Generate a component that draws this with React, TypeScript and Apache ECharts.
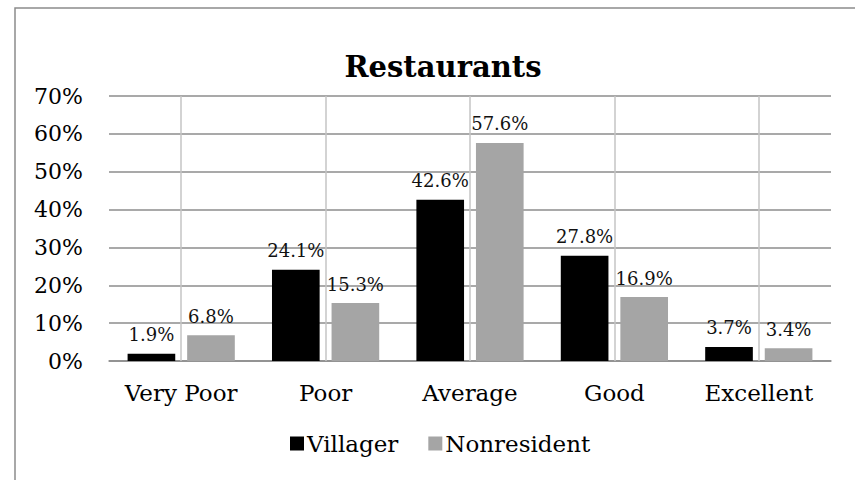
import React, { useEffect, useRef } from "react";
import * as echarts from "echarts";

const categories = ["Very Poor", "Poor", "Average", "Good", "Excellent"];
const villager = [1.9, 24.1, 42.6, 27.8, 3.7];
const nonresident = [6.8, 15.3, 57.6, 16.9, 3.4];
const seriesNames = ["Villager", "Nonresident"];
const yTicks = { min: 0, max: 70, interval: 10 };

const FONT = "'DejaVu Serif', Georgia, serif";

export default function App() {
  const ref = useRef<HTMLDivElement>(null);
  useEffect(() => {
    if (!ref.current) return;
    const chart = echarts.init(ref.current, null, { renderer: "svg" });
    const labelCfg = {
      show: true,
      position: "top" as const,
      distance: 10,
      fontFamily: FONT,
      fontSize: 18,
      color: "#111",
      formatter: (p: any) => `${Number(p.value).toFixed(1)}%`,
    };
    chart.setOption({
      animation: false,
      backgroundColor: "#ffffff",
      textStyle: { fontFamily: FONT },
      graphic: [
        {
          type: "rect",
          shape: { x: 15, y: 8, width: 900, height: 600 },
          style: { fill: "none", stroke: "#8c8c8c", lineWidth: 1.5 },
          silent: true,
          z: 100,
        },
      ],
      title: {
        text: "Restaurants",
        left: 438,
        textAlign: "center",
        top: 47,
        textStyle: {
          fontFamily: FONT,
          fontWeight: "bold",
          fontSize: 29,
          color: "#000",
        },
      },
      legend: {
        data: seriesNames,
        left: 290,
        top: 432,
        padding: 0,
        itemWidth: 14,
        itemHeight: 14,
        itemGap: 30,
        icon: "rect",
        textStyle: { fontFamily: FONT, fontSize: 23, color: "#000", padding: [0, 0, 0, -2] },
      },
      grid: { left: 109, right: 24, top: 96, bottom: 119, containLabel: false },
      xAxis: {
        type: "category",
        data: categories,
        axisTick: { show: false },
        axisLine: { show: true, lineStyle: { color: "#8c8c8c", width: 1.5 } },
        axisLabel: {
          interval: 0,
          fontFamily: FONT,
          fontSize: 23,
          color: "#000",
          margin: 20,
        },
        splitLine: { show: false },
      },
      yAxis: {
        type: "value",
        min: yTicks.min,
        max: yTicks.max,
        interval: yTicks.interval,
        axisLine: { show: false },
        axisTick: { show: false },
        axisLabel: {
          fontFamily: FONT,
          fontSize: 22,
          color: "#000",
          margin: 26,
          formatter: "{value}%",
        },
        splitLine: { show: true, lineStyle: { color: "#8c8c8c", width: 1.5 } },
      },
      series: [
        {
          name: "gridlines",
          type: "line",
          data: [],
          silent: true,
          markLine: {
            silent: true,
            symbol: ["none", "none"],
            label: { show: false },
            lineStyle: { color: "#c4c4c4", width: 1.5, type: "solid" },
            data: categories.map((c) => ({ xAxis: c })),
          },
        },
        {
          name: seriesNames[0],
          type: "bar",
          data: villager,
          barWidth: "33%",
          barGap: "25%",
          itemStyle: { color: "#000000" },
          label: labelCfg,
        },
        {
          name: seriesNames[1],
          type: "bar",
          data: nonresident,
          barWidth: "33%",
          barGap: "25%",
          itemStyle: { color: "#a5a5a5" },
          label: labelCfg,
        },
      ],
    });
    return () => chart.dispose();
  }, []);
  return (
    <div
      ref={ref}
      style={{ position: "absolute", left: 0, top: 0, width: 855, height: 480 }}
    />
  );
}
